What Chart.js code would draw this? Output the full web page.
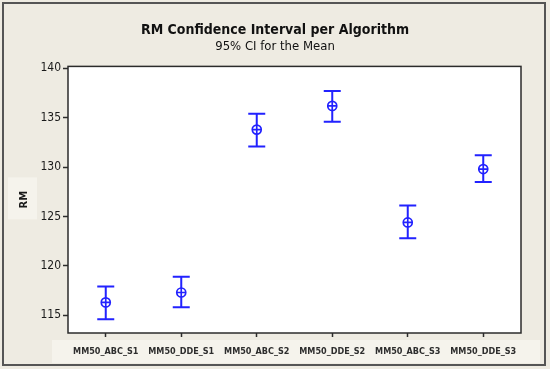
<!DOCTYPE html>
<html>
<head>
<meta charset="utf-8">
<script src="https://cdn.jsdelivr.net/npm/chart.js@4/dist/chart.umd.min.js"></script>
<style>
    html, body { margin: 0; padding: 0; background: #EEEBE2; }
    #chart { display: block; }
</style>
</head>
<body>
<canvas id="chart" width="550" height="369"></canvas>
<script>
const algorithms = ['MM50_ABC_S1', 'MM50_DDE_S1', 'MM50_ABC_S2', 'MM50_DDE_S2', 'MM50_ABC_S3', 'MM50_DDE_S3'];
const means = [116.3, 117.3, 133.8, 136.2, 124.4, 129.8];
const lowerCI = [114.6, 115.8, 132.1, 134.6, 122.8, 128.5];
const upperCI = [117.9, 118.9, 135.4, 137.7, 126.1, 131.2];
const yTicks = [115, 120, 125, 130, 135, 140];

const blue = '#2222FF';
const fontFamily = '"DejaVu Sans Condensed", Tahoma, "DejaVu Sans", sans-serif';

// panel background, label bands, plot frame
const framePlugin = {
    id: 'frame',
    beforeDraw(chart) {
        const ctx = chart.ctx;
        const a = chart.chartArea;
        ctx.save();
        ctx.fillStyle = '#EEEBE2';
        ctx.fillRect(0, 0, chart.width, chart.height);
        // lighter bands behind axis labels
        ctx.fillStyle = '#F5F3EC';
        ctx.fillRect(52, a.bottom + 7, 488, 23);
        ctx.fillRect(8, a.top + 111, 29, 42);
        ctx.fillStyle = '#FFFFFF';
        ctx.fillRect(a.left, a.top, a.right - a.left, a.bottom - a.top);
        ctx.strokeStyle = '#555555';
        ctx.lineWidth = 2;
        ctx.strokeRect(3, 3, 542, 362);
        ctx.restore();
    },
    afterDraw(chart) {
        const ctx = chart.ctx;
        const a = chart.chartArea;
        ctx.save();
        ctx.strokeStyle = '#2B2B2B';
        ctx.lineWidth = 1.5;
        ctx.strokeRect(a.left, a.top, a.right - a.left, a.bottom - a.top);
        ctx.restore();
    }
};

// vertical CI bars with caps, drawn under the mean markers
const errorBarPlugin = {
    id: 'errorBars',
    beforeDatasetsDraw(chart) {
        const ctx = chart.ctx;
        const x = chart.scales.x;
        const y = chart.scales.y;
        ctx.save();
        ctx.strokeStyle = blue;
        ctx.lineWidth = 2;
        algorithms.forEach((name, i) => {
            const px = x.getPixelForValue(i);
            const top = y.getPixelForValue(upperCI[i]);
            const bottom = y.getPixelForValue(lowerCI[i]);
            ctx.beginPath();
            ctx.moveTo(px, top);
            ctx.lineTo(px, bottom);
            ctx.moveTo(px - 8.5, top);
            ctx.lineTo(px + 8.5, top);
            ctx.moveTo(px - 8.5, bottom);
            ctx.lineTo(px + 8.5, bottom);
            ctx.stroke();
        });
        ctx.restore();
    }
};

const markerOptions = {
    showLine: false,
    borderColor: blue,
    backgroundColor: 'rgba(0,0,0,0)',
    borderWidth: 1.7,
    pointRadius: 4.5,
    pointHoverRadius: 4.5
};

new Chart(document.getElementById('chart').getContext('2d'), {
    type: 'line',
    data: {
        labels: algorithms,
        datasets: [
            // lower order is drawn on top: cross over the white-filled circle
            { ...markerOptions, label: 'Mean', data: means, pointStyle: 'circle', backgroundColor: '#FFFFFF', order: 1 },
            { ...markerOptions, label: 'Mean cross', data: means, pointStyle: 'cross', order: 0 }
        ]
    },
    options: {
        responsive: false,
        animation: false,
        events: [],
        layout: {
            padding: 0
        },
        plugins: {
            legend: { display: false },
            tooltip: { enabled: false },
            title: {
                display: true,
                text: 'RM Confidence Interval per Algorithm',
                color: '#111111',
                font: { family: fontFamily, size: 14, weight: 'bold', lineHeight: 1.2 },
                padding: { top: 22, bottom: 0 }
            },
            subtitle: {
                display: true,
                text: '95% CI for the Mean',
                color: '#111111',
                font: { family: fontFamily, size: 13, lineHeight: 1.2 },
                padding: { top: 0, bottom: 12 }
            }
        },
        scales: {
            x: {
                type: 'category',
                offset: true,
                grid: {
                    drawOnChartArea: false,
                    drawTicks: true,
                    tickLength: 4,
                    tickWidth: 1.5,
                    tickColor: '#2B2B2B'
                },
                border: { display: false },
                ticks: {
                    color: '#2E2E2E',
                    padding: 9,
                    maxRotation: 0,
                    font: { family: fontFamily, size: 9, weight: 'bold' }
                },
                afterFit(scale) { scale.height = 36; }
            },
            y: {
                min: 113.2,
                max: 140.2,
                grid: {
                    drawOnChartArea: false,
                    drawTicks: true,
                    tickLength: 5,
                    tickWidth: 1.5,
                    tickColor: '#2B2B2B'
                },
                border: { display: false },
                afterBuildTicks(scale) {
                    scale.ticks = yTicks.map(v => ({ value: v }));
                },
                ticks: {
                    color: '#1A1A1A',
                    padding: 2,
                    font: { family: fontFamily, size: 12 }
                },
                title: {
                    display: true,
                    text: 'RM',
                    color: '#1A1A1A',
                    padding: { top: 18, bottom: 0 },
                    font: { family: fontFamily, size: 11, weight: 'bold' }
                },
                afterFit(scale) { scale.width = 68; }
            },
            // empty right-hand axis that only reserves the margin beside the plot
            yRight: {
                position: 'right',
                display: true,
                grid: { display: false },
                border: { display: false },
                ticks: { display: false },
                afterFit(scale) { scale.width = 29; }
            }
        }
    },
    plugins: [framePlugin, errorBarPlugin]
});
</script>
</body>
</html>
